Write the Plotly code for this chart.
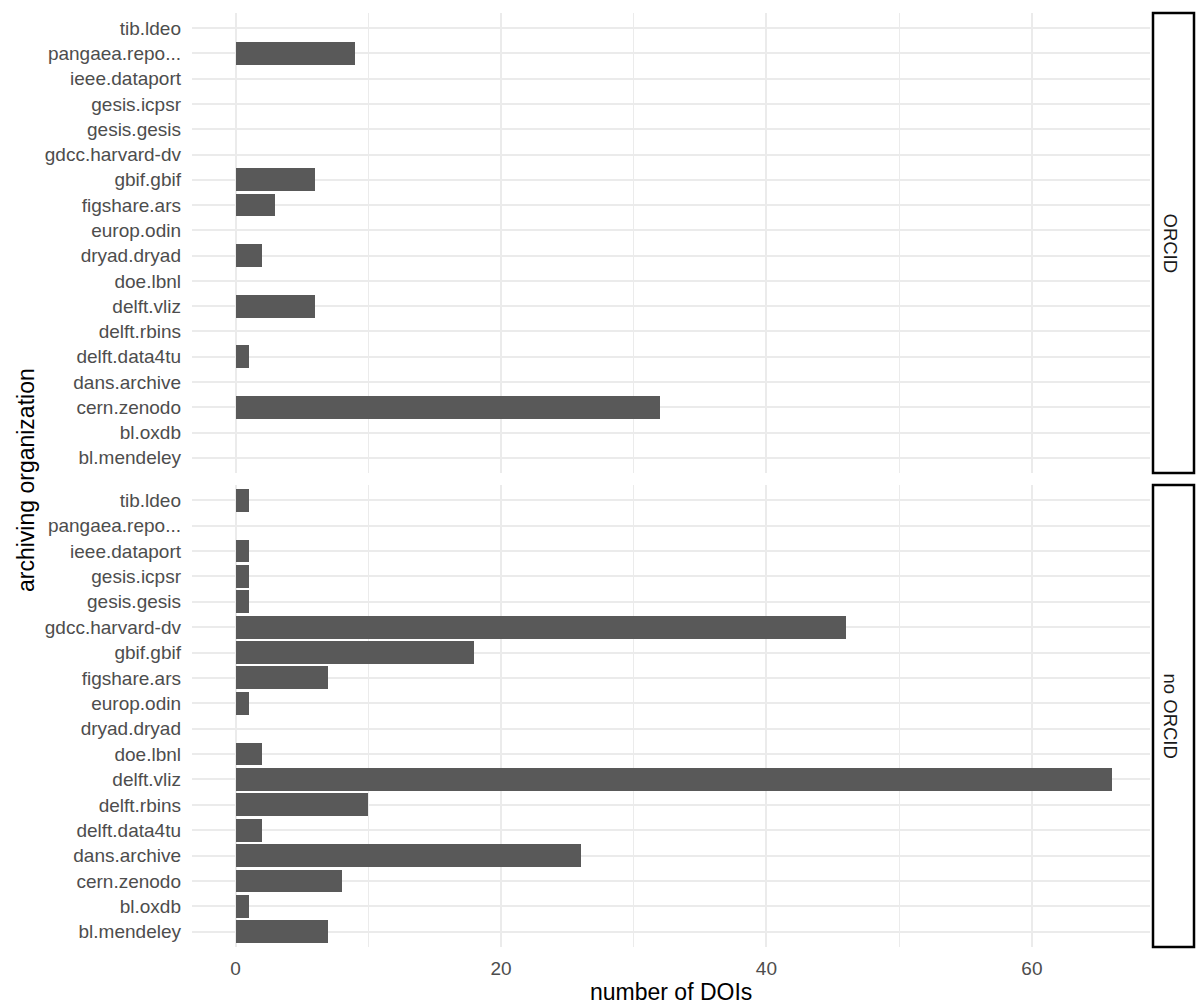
import plotly.graph_objects as go

# archiving organizations, bottom to top
orgs = ["bl.mendeley", "bl.oxdb", "cern.zenodo", "dans.archive", "delft.data4tu",
        "delft.rbins", "delft.vliz", "doe.lbnl", "dryad.dryad", "europ.odin",
        "figshare.ars", "gbif.gbif", "gdcc.harvard-dv", "gesis.gesis", "gesis.icpsr",
        "ieee.dataport", "pangaea.repo...", "tib.ldeo"]

# number of DOIs per facet
orcid = [0, 0, 32, 0, 1, 0, 6, 0, 2, 0, 3, 6, 0, 0, 0, 0, 9, 0]
no_orcid = [7, 1, 8, 26, 2, 10, 66, 2, 0, 1, 7, 18, 46, 1, 1, 1, 0, 1]

facets = ["ORCID", "no ORCID"]
x_ticks = [0, 20, 40, 60]
x_minor = [10, 30, 50]

bar_color = "#595959"
grid_color = "#EBEBEB"
tick_color = "#4D4D4D"
font_family = "Liberation Sans, Arial"

fig = go.Figure()
fig.add_trace(go.Bar(x=orcid, y=orgs, orientation="h", width=0.9,
                     marker=dict(color=bar_color, line=dict(width=0)),
                     xaxis="x", yaxis="y", showlegend=False))
fig.add_trace(go.Bar(x=no_orcid, y=orgs, orientation="h", width=0.9,
                     marker=dict(color=bar_color, line=dict(width=0)),
                     xaxis="x2", yaxis="y2", showlegend=False))

top_dom = [0.5075, 1.0]
bot_dom = [0.0, 0.4946]

xcommon = dict(range=[-3.28, 68.9], tickvals=x_ticks, showgrid=True,
               gridcolor=grid_color, gridwidth=1.5, zeroline=False,
               showline=False, ticks="", ticklabelstandoff=8,
               minor=dict(tickvals=x_minor, showgrid=True,
                          gridcolor=grid_color, gridwidth=1))
ycommon = dict(type="category", categoryorder="array", categoryarray=orgs,
               range=[-0.6, 17.6], showgrid=True, gridcolor=grid_color,
               gridwidth=1.5, zeroline=False, showline=False, ticks="",
               ticklabelstandoff=10,
               tickfont=dict(family=font_family, size=19, color=tick_color))

fig.update_layout(
    width=1200, height=1008,
    margin=dict(l=192, r=50, t=13, b=61),
    plot_bgcolor="white", paper_bgcolor="white",
    bargap=0,
    xaxis=dict(xcommon, anchor="y", domain=[0, 1], showticklabels=False),
    xaxis2=dict(xcommon, anchor="y2", domain=[0, 1], matches="x",
                tickfont=dict(family=font_family, size=19, color=tick_color)),
    yaxis=dict(ycommon, domain=top_dom, anchor="x"),
    yaxis2=dict(ycommon, domain=bot_dom, anchor="x2"),
)

# facet strips on the right
x0 = (1153 - 192) / 958
x1 = (1194 - 192) / 958
for dom, label in zip([top_dom, bot_dom], facets):
    fig.add_shape(type="rect", xref="paper", yref="paper",
                  x0=x0, x1=x1, y0=dom[0], y1=dom[1],
                  line=dict(color="black", width=2.5), fillcolor="white")
    fig.add_annotation(xref="paper", yref="paper", x=(x0 + x1) / 2, xshift=-3,
                       y=(dom[0] + dom[1]) / 2, xanchor="center", yanchor="middle",
                       text=label, textangle=90, showarrow=False,
                       font=dict(family=font_family, size=18.5, color="#1A1A1A"))

# axis titles
fig.add_annotation(xref="paper", yref="paper", x=0.5, y=0, yshift=-45,
                   xanchor="center", yanchor="middle", text="number of DOIs",
                   showarrow=False,
                   font=dict(family=font_family, size=23, color="black"))
fig.add_annotation(xref="paper", yref="paper", x=0, xshift=-166, y=0.5,
                   xanchor="center", yanchor="middle", text="archiving organization",
                   textangle=-90, showarrow=False,
                   font=dict(family=font_family, size=23, color="black"))

fig.write_html("out.html", config={"displayModeBar": False},
               post_script="document.body.style.margin='0';")
